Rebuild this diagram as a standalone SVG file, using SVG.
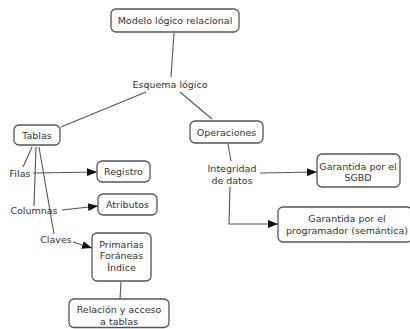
<svg xmlns="http://www.w3.org/2000/svg" width="410" height="329" viewBox="0 0 410 329">
<style>
.n{fill:#fff;stroke:#555;stroke-width:1.3}
.t{font-family:"DejaVu Sans",Verdana,sans-serif;font-size:9.5px;fill:#333;text-anchor:middle}
.c{fill:none;stroke:#555;stroke-width:1.1}
</style>
<defs>
<marker id="ah" markerUnits="userSpaceOnUse" markerWidth="10" markerHeight="8" refX="10" refY="4" orient="auto">
<path d="M0,0 L10,4 L0,8 z" fill="#111"/>
</marker>
</defs>
<rect width="410" height="329" fill="#fff"/>
<g id="connectors">
<line class="c" x1="174" y1="33" x2="171" y2="77"/>
<line class="c" x1="146" y1="92" x2="61" y2="127"/>
<line class="c" x1="180" y1="92" x2="212" y2="119"/>
<line class="c" x1="32" y1="147" x2="23" y2="167"/>
<line class="c" x1="36" y1="147" x2="34" y2="206"/>
<line class="c" x1="39" y1="147" x2="54" y2="234"/>
<line class="c" x1="33" y1="173" x2="97" y2="172" marker-end="url(#ah)"/>
<line class="c" x1="62" y1="210" x2="98" y2="206" marker-end="url(#ah)"/>
<line class="c" x1="73" y1="242" x2="92" y2="248" marker-end="url(#ah)"/>
<line class="c" x1="121" y1="282" x2="120" y2="299"/>
<line class="c" x1="228" y1="144" x2="231" y2="161"/>
<line class="c" x1="260" y1="173" x2="317" y2="172" marker-end="url(#ah)"/>
<polyline class="c" points="230,187 229,224 278,224" marker-end="url(#ah)"/>
</g>
<g id="modelo"><rect class="n" x="111" y="9" width="128" height="23" rx="5"/><text class="t" x="175" y="24">Modelo lógico relacional</text></g>
<g id="esquema"><text class="t" x="170" y="87.5">Esquema lógico</text></g>
<g id="tablas"><rect class="n" x="14" y="125" width="46" height="20" rx="5"/><text class="t" x="37" y="138.5">Tablas</text></g>
<g id="operaciones"><rect class="n" x="190" y="121" width="73" height="22" rx="5"/><text class="t" x="226.5" y="135.5">Operaciones</text></g>
<g id="filas"><text class="t" x="20" y="176.5">Filas</text></g>
<g id="columnas"><text class="t" x="34" y="214">Columnas</text></g>
<g id="claves"><text class="t" x="56" y="243">Claves</text></g>
<g id="registro"><rect class="n" x="97" y="161" width="53" height="21" rx="5"/><text class="t" x="123.5" y="175">Registro</text></g>
<g id="atributos"><rect class="n" x="98" y="194" width="59" height="21" rx="5"/><text class="t" x="127.5" y="208">Atributos</text></g>
<g id="primarias"><rect class="n" x="92" y="233" width="59" height="48" rx="5"/><text class="t" x="121.5" y="247.5">Primarias</text><text class="t" x="121.5" y="259">Foráneas</text><text class="t" x="121.5" y="270.5">Índice</text></g>
<g id="relacion"><rect class="n" x="69" y="299" width="100" height="28.5" rx="5"/><text class="t" x="119" y="313">Relación y acceso</text><text class="t" x="119" y="325">a tablas</text></g>
<g id="integridad"><text class="t" x="232" y="171.5">Integridad</text><text class="t" x="232" y="183.5">de datos</text></g>
<g id="sgbd"><rect class="n" x="317" y="154" width="83" height="33" rx="5"/><text class="t" x="358" y="169.5">Garantida por el</text><text class="t" x="358" y="181">SGBD</text></g>
<g id="programador"><rect class="n" x="278" y="207" width="134" height="35" rx="5"/><text class="t" x="347" y="222">Garantida por el</text><text class="t" x="347" y="233.5">programador (semántica)</text></g>
</svg>
